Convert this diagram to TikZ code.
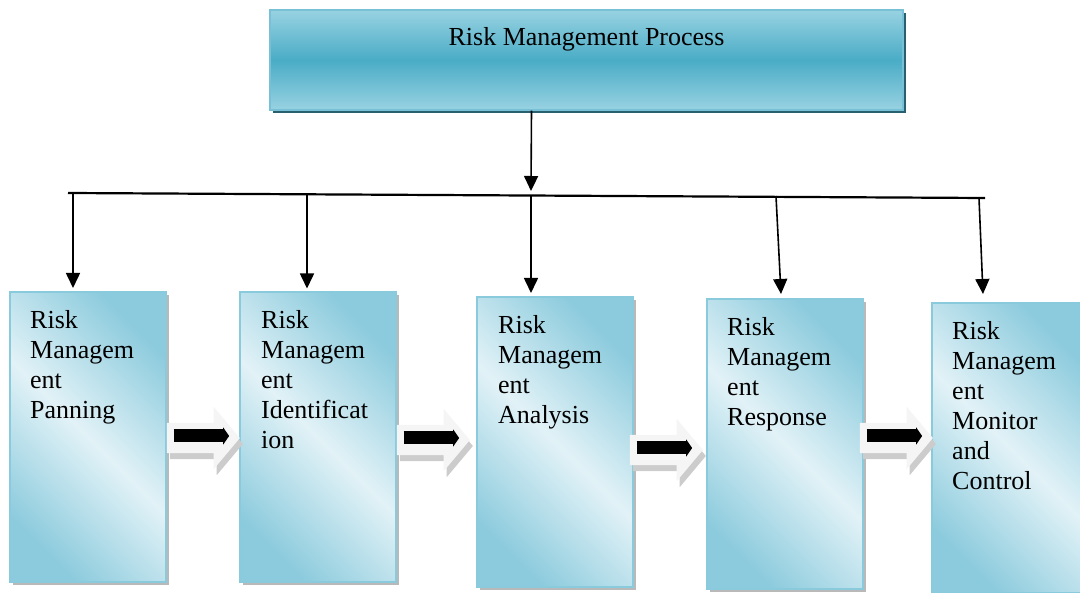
\documentclass[tikz,border=0pt]{standalone}
\usepackage{fontspec}
\setmainfont{Liberation Serif}
\usetikzlibrary{arrows.meta, positioning, shapes.arrows, shadows, calc}
\definecolor{headtop}{RGB}{152,210,226}
\definecolor{headmid}{RGB}{74,172,198}
\definecolor{headline}{RGB}{120,192,214}
\definecolor{headshadow}{RGB}{40,96,112}
\definecolor{boxedge}{RGB}{140,203,221}
\definecolor{boxlight}{RGB}{226,242,247}
\definecolor{boxline}{RGB}{138,202,221}

\begin{document}
\begin{tikzpicture}[
    x=1pt, y=-1pt,
    headbox/.style={rectangle, draw=headline, line width=1.5pt, top color=headtop, bottom color=headtop, middle color=headmid, minimum width=633pt, minimum height=100pt, inner sep=0pt, text height=36pt, text depth=64pt, font=\fontsize{26}{30}\selectfont, drop shadow={shadow xshift=3pt, shadow yshift=-3pt, fill=headshadow, opacity=1}},
    stepbox/.style={rectangle, draw=boxline, line width=2pt, left color=boxedge, right color=boxedge, middle color=boxlight, shading angle=135, minimum width=156pt, minimum height=290pt, drop shadow={shadow xshift=3pt, shadow yshift=-3pt, fill=gray!55, opacity=1}},
    steptext/.style={anchor=north west, inner sep=0pt, align=left, font=\fontsize{26}{30}\selectfont},
    blockarrow/.style={single arrow, fill=gray!8, draw=none, inner sep=15pt, single arrow head extend=16pt, single arrow tip angle=100, minimum height=73pt, drop shadow={shadow xshift=3pt, shadow yshift=-6pt, fill=gray!40, opacity=1}},
    bar/.style={-{Triangle[length=6pt,width=17pt]}, line width=13pt, black},
    arrow/.style={-{Triangle[length=15pt,width=14pt]}, line width=1.6pt}
]
    \useasboundingbox (0,0) rectangle (1080,593);

    % top box
    \node[headbox] (head) at (586.5,60) {Risk Management Process};

    % steps
    \node[stepbox] (p1) at (88,437) {};
    \node[stepbox] (p2) at (318,437.5) {};
    \node[stepbox] (p3) at (555,442) {};
    \node[stepbox] (p4) at (785,444) {};
    \node[stepbox] (p5) at (1010,448) {};

    \node[steptext] (t1) at ([xshift=21pt,yshift=-19pt]p1.north west) {Risk\\Managem\\ent\\Panning};
    \node[steptext] (t2) at ([xshift=22pt,yshift=-19pt]p2.north west) {Risk\\Managem\\ent\\Identificat\\ion};
    \node[steptext] (t3) at ([xshift=22pt,yshift=-19pt]p3.north west) {Risk\\Managem\\ent\\Analysis};
    \node[steptext] (t4) at ([xshift=21pt,yshift=-19pt]p4.north west) {Risk\\Managem\\ent\\Response};
    \node[steptext] (t5) at ([xshift=21pt,yshift=-19pt]p5.north west) {Risk\\Managem\\ent\\Monitor\\and\\Control};

    % block arrows between steps
    \node[blockarrow] (a1) at (197,438) {};
    \node[blockarrow] (a2) at (427,440) {};
    \node[blockarrow] (a3) at (660,450) {};
    \node[blockarrow] (a4) at (890,438) {};
    \foreach \a in {a1,a2,a3,a4}
        \draw[bar] ([xshift=7pt,yshift=2pt]\a.west) -- ([xshift=-11pt,yshift=2pt]\a.east);

    % bus
    \coordinate (busL) at (68,193);
    \coordinate (busR) at (985,198);
    \coordinate (hub) at (531,195);
    \coordinate (d1) at (73,193);
    \coordinate (d2) at (307,194);
    \coordinate (d4) at (776,196);
    \coordinate (d5) at (979,198);
    \draw[line width=2.2pt] (busL) -- (busR);

    \draw[arrow] ([xshift=-55pt]head.south) -- ([yshift=4pt]hub);
    \draw[arrow] (d1) -- ([xshift=-15pt,yshift=3pt]p1.north);
    \draw[arrow] (d2) -- ([xshift=-11pt,yshift=3pt]p2.north);
    \draw[arrow] (hub) -- ([xshift=-24pt,yshift=3pt]p3.north);
    \draw[arrow] (d4) -- ([xshift=-4pt,yshift=4pt]p4.north);
    \draw[arrow] (d5) -- ([xshift=-27pt,yshift=8pt]p5.north);
\end{tikzpicture}
\end{document}
